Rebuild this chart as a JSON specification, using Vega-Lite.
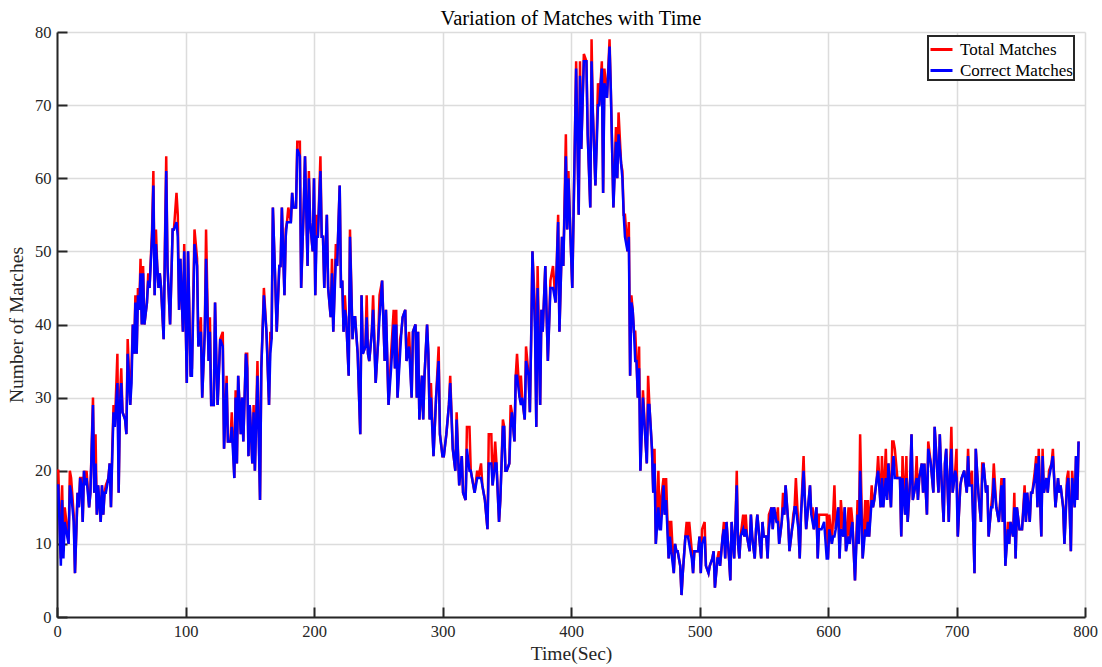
{"$schema":"https://vega.github.io/schema/vega-lite/v6.json","width":1028,"height":585,"autosize":{"type":"none"},"padding":{"left":57,"top":32,"right":17,"bottom":50},"background":"white",
"title":{"text":"Variation of Matches with Time","font":"Liberation Serif","fontSize":20.5,"fontWeight":"normal","color":"#000000","offset":-5,"anchor":"middle"},
"config":{"view":{"stroke":null},"font":"Liberation Serif",
"axis":{"labelFont":"Liberation Serif","labelFontSize":16.5,"labelColor":"#262626","titleFont":"Liberation Serif","titleFontSize":19.5,"titleFontWeight":"normal","titleColor":"#262626","domainColor":"#262626","domainWidth":2,"tickColor":"#262626","tickWidth":2,"tickSize":-10,"gridColor":"#dcdcdc","gridWidth":1.5,"gridOpacity":1},
"legend":{"orient":"none","legendX":871,"legendY":4,"strokeColor":"#262626","strokeWidth":2,"fillColor":"white","padding":1,"labelFont":"Liberation Serif","labelFontSize":17,"labelColor":"#000000","symbolType":"stroke","symbolStrokeWidth":3,"symbolSize":484,"rowPadding":-7,"labelOffset":6}},
"data":{"values":[
{"t":0,"total":20,"correct":18},{"t":1,"total":20,"correct":18},{"t":3,"total":8,"correct":7},{"t":4,"total":18,"correct":16},{"t":5,"total":9,"correct":8},{"t":6,"total":15,"correct":13},{"t":8,"total":12,"correct":11},{"t":9,"total":10,"correct":10},{"t":10,"total":20,"correct":18},{"t":11,"total":19,"correct":17},{"t":13,"total":14,"correct":13},{"t":14,"total":6,"correct":6},{"t":16,"total":17,"correct":17},{"t":17,"total":15,"correct":15},{"t":18,"total":19,"correct":19},{"t":19,"total":19,"correct":18},{"t":20,"total":13,"correct":13},{"t":21,"total":20,"correct":20},{"t":22,"total":19,"correct":18},{"t":23,"total":20,"correct":19},{"t":25,"total":15,"correct":15},{"t":26,"total":17,"correct":17},{"t":28,"total":30,"correct":29},{"t":29,"total":17,"correct":17},{"t":30,"total":25,"correct":21},{"t":31,"total":14,"correct":14},{"t":32,"total":18,"correct":18},{"t":34,"total":13,"correct":13},{"t":35,"total":18,"correct":18},{"t":36,"total":14,"correct":14},{"t":37,"total":17,"correct":17},{"t":38,"total":18,"correct":17},{"t":40,"total":19,"correct":19},{"t":41,"total":21,"correct":21},{"t":42,"total":15,"correct":15},{"t":43,"total":23,"correct":22},{"t":44,"total":29,"correct":28},{"t":45,"total":26,"correct":26},{"t":47,"total":36,"correct":32},{"t":48,"total":17,"correct":17},{"t":49,"total":30,"correct":29},{"t":50,"total":34,"correct":32},{"t":51,"total":28,"correct":28},{"t":53,"total":27,"correct":27},{"t":54,"total":25,"correct":25},{"t":55,"total":38,"correct":36},{"t":57,"total":29,"correct":29},{"t":58,"total":34,"correct":32},{"t":59,"total":40,"correct":40},{"t":60,"total":36,"correct":36},{"t":61,"total":44,"correct":43},{"t":62,"total":36,"correct":36},{"t":63,"total":45,"correct":44},{"t":64,"total":42,"correct":42},{"t":65,"total":49,"correct":47},{"t":66,"total":40,"correct":40},{"t":67,"total":48,"correct":47},{"t":68,"total":40,"correct":40},{"t":70,"total":43,"correct":43},{"t":71,"total":47,"correct":46},{"t":72,"total":45,"correct":45},{"t":74,"total":53,"correct":52},{"t":75,"total":61,"correct":59},{"t":76,"total":44,"correct":44},{"t":77,"total":53,"correct":51},{"t":78,"total":48,"correct":48},{"t":79,"total":45,"correct":45},{"t":80,"total":47,"correct":47},{"t":81,"total":45,"correct":45},{"t":83,"total":38,"correct":38},{"t":84,"total":51,"correct":50},{"t":85,"total":63,"correct":61},{"t":86,"total":48,"correct":48},{"t":88,"total":40,"correct":40},{"t":90,"total":53,"correct":53},{"t":91,"total":53,"correct":53},{"t":93,"total":58,"correct":54},{"t":94,"total":55,"correct":52},{"t":95,"total":42,"correct":42},{"t":96,"total":49,"correct":49},{"t":98,"total":39,"correct":39},{"t":99,"total":51,"correct":50},{"t":100,"total":42,"correct":42},{"t":101,"total":32,"correct":32},{"t":102,"total":50,"correct":50},{"t":104,"total":33,"correct":33},{"t":105,"total":34,"correct":33},{"t":107,"total":53,"correct":51},{"t":109,"total":49,"correct":48},{"t":110,"total":37,"correct":37},{"t":112,"total":41,"correct":39},{"t":113,"total":30,"correct":30},{"t":115,"total":39,"correct":39},{"t":116,"total":53,"correct":49},{"t":118,"total":35,"correct":35},{"t":119,"total":41,"correct":39},{"t":120,"total":29,"correct":29},{"t":122,"total":29,"correct":29},{"t":123,"total":43,"correct":43},{"t":124,"total":35,"correct":35},{"t":125,"total":29,"correct":29},{"t":127,"total":38,"correct":38},{"t":129,"total":39,"correct":37},{"t":130,"total":23,"correct":23},{"t":132,"total":33,"correct":32},{"t":133,"total":24,"correct":24},{"t":135,"total":24,"correct":24},{"t":136,"total":28,"correct":26},{"t":138,"total":19,"correct":19},{"t":139,"total":31,"correct":30},{"t":140,"total":21,"correct":21},{"t":141,"total":33,"correct":33},{"t":143,"total":25,"correct":25},{"t":144,"total":30,"correct":30},{"t":145,"total":24,"correct":24},{"t":147,"total":36,"correct":36},{"t":148,"total":36,"correct":34},{"t":149,"total":22,"correct":22},{"t":150,"total":29,"correct":29},{"t":152,"total":21,"correct":21},{"t":153,"total":29,"correct":28},{"t":154,"total":20,"correct":20},{"t":156,"total":35,"correct":33},{"t":158,"total":16,"correct":16},{"t":159,"total":34,"correct":34},{"t":161,"total":45,"correct":44},{"t":163,"total":39,"correct":39},{"t":165,"total":29,"correct":29},{"t":166,"total":39,"correct":36},{"t":167,"total":38,"correct":38},{"t":168,"total":56,"correct":56},{"t":170,"total":45,"correct":45},{"t":171,"total":39,"correct":39},{"t":173,"total":48,"correct":48},{"t":174,"total":48,"correct":48},{"t":175,"total":56,"correct":56},{"t":177,"total":44,"correct":44},{"t":178,"total":53,"correct":52},{"t":179,"total":54,"correct":54},{"t":180,"total":56,"correct":54},{"t":182,"total":54,"correct":54},{"t":183,"total":58,"correct":58},{"t":184,"total":56,"correct":56},{"t":186,"total":56,"correct":56},{"t":187,"total":65,"correct":64},{"t":189,"total":65,"correct":63},{"t":190,"total":45,"correct":45},{"t":192,"total":56,"correct":56},{"t":193,"total":63,"correct":63},{"t":195,"total":48,"correct":48},{"t":196,"total":61,"correct":60},{"t":197,"total":54,"correct":54},{"t":199,"total":50,"correct":50},{"t":200,"total":60,"correct":60},{"t":201,"total":44,"correct":44},{"t":202,"total":55,"correct":52},{"t":203,"total":52,"correct":52},{"t":205,"total":63,"correct":61},{"t":206,"total":52,"correct":52},{"t":207,"total":52,"correct":52},{"t":208,"total":45,"correct":45},{"t":210,"total":55,"correct":55},{"t":211,"total":45,"correct":45},{"t":213,"total":41,"correct":41},{"t":214,"total":49,"correct":47},{"t":215,"total":39,"correct":39},{"t":217,"total":51,"correct":49},{"t":218,"total":48,"correct":48},{"t":220,"total":59,"correct":59},{"t":221,"total":45,"correct":45},{"t":222,"total":46,"correct":46},{"t":223,"total":39,"correct":39},{"t":224,"total":44,"correct":42},{"t":225,"total":41,"correct":41},{"t":227,"total":33,"correct":33},{"t":228,"total":53,"correct":52},{"t":230,"total":38,"correct":38},{"t":231,"total":41,"correct":41},{"t":232,"total":41,"correct":41},{"t":234,"total":36,"correct":36},{"t":236,"total":25,"correct":25},{"t":237,"total":44,"correct":44},{"t":238,"total":36,"correct":36},{"t":240,"total":37,"correct":37},{"t":241,"total":44,"correct":41},{"t":242,"total":36,"correct":36},{"t":243,"total":35,"correct":35},{"t":245,"total":39,"correct":39},{"t":246,"total":44,"correct":42},{"t":248,"total":32,"correct":32},{"t":250,"total":38,"correct":38},{"t":251,"total":44,"correct":41},{"t":253,"total":46,"correct":46},{"t":255,"total":35,"correct":35},{"t":256,"total":42,"correct":42},{"t":258,"total":29,"correct":29},{"t":260,"total":36,"correct":34},{"t":262,"total":42,"correct":40},{"t":263,"total":34,"correct":34},{"t":264,"total":42,"correct":40},{"t":265,"total":30,"correct":30},{"t":267,"total":38,"correct":36},{"t":268,"total":39,"correct":39},{"t":269,"total":41,"correct":41},{"t":271,"total":42,"correct":42},{"t":272,"total":35,"correct":35},{"t":274,"total":39,"correct":37},{"t":276,"total":30,"correct":30},{"t":277,"total":39,"correct":39},{"t":279,"total":40,"correct":40},{"t":280,"total":30,"correct":30},{"t":281,"total":39,"correct":39},{"t":282,"total":27,"correct":27},{"t":284,"total":33,"correct":33},{"t":285,"total":27,"correct":27},{"t":286,"total":33,"correct":33},{"t":288,"total":40,"correct":40},{"t":289,"total":36,"correct":36},{"t":290,"total":27,"correct":27},{"t":291,"total":32,"correct":30},{"t":293,"total":22,"correct":22},{"t":295,"total":30,"correct":30},{"t":297,"total":37,"correct":35},{"t":298,"total":25,"correct":25},{"t":300,"total":22,"correct":22},{"t":301,"total":22,"correct":22},{"t":303,"total":25,"correct":25},{"t":305,"total":29,"correct":29},{"t":306,"total":33,"correct":32},{"t":308,"total":23,"correct":23},{"t":310,"total":20,"correct":20},{"t":311,"total":28,"correct":27},{"t":313,"total":18,"correct":18},{"t":315,"total":22,"correct":22},{"t":316,"total":17,"correct":17},{"t":318,"total":16,"correct":16},{"t":319,"total":26,"correct":23},{"t":321,"total":26,"correct":20},{"t":322,"total":20,"correct":20},{"t":324,"total":18,"correct":18},{"t":325,"total":17,"correct":17},{"t":327,"total":20,"correct":19},{"t":328,"total":19,"correct":19},{"t":330,"total":21,"correct":19},{"t":331,"total":18,"correct":18},{"t":332,"total":17,"correct":17},{"t":333,"total":16,"correct":16},{"t":335,"total":12,"correct":12},{"t":336,"total":25,"correct":21},{"t":338,"total":25,"correct":21},{"t":339,"total":18,"correct":18},{"t":341,"total":24,"correct":21},{"t":342,"total":21,"correct":21},{"t":344,"total":13,"correct":13},{"t":345,"total":16,"correct":16},{"t":347,"total":27,"correct":26},{"t":348,"total":26,"correct":26},{"t":349,"total":20,"correct":20},{"t":350,"total":20,"correct":20},{"t":352,"total":21,"correct":21},{"t":353,"total":29,"correct":26},{"t":354,"total":28,"correct":28},{"t":356,"total":24,"correct":24},{"t":357,"total":33,"correct":33},{"t":358,"total":36,"correct":33},{"t":360,"total":30,"correct":30},{"t":361,"total":33,"correct":29},{"t":362,"total":30,"correct":30},{"t":364,"total":27,"correct":27},{"t":365,"total":37,"correct":35},{"t":367,"total":33,"correct":33},{"t":368,"total":28,"correct":28},{"t":369,"total":38,"correct":38},{"t":370,"total":50,"correct":50},{"t":372,"total":42,"correct":39},{"t":373,"total":26,"correct":26},{"t":374,"total":48,"correct":45},{"t":376,"total":29,"correct":29},{"t":377,"total":42,"correct":42},{"t":378,"total":39,"correct":39},{"t":380,"total":48,"correct":48},{"t":382,"total":35,"correct":35},{"t":384,"total":46,"correct":45},{"t":386,"total":48,"correct":45},{"t":388,"total":43,"correct":43},{"t":390,"total":55,"correct":54},{"t":391,"total":39,"correct":39},{"t":393,"total":52,"correct":52},{"t":394,"total":48,"correct":48},{"t":396,"total":66,"correct":63},{"t":397,"total":53,"correct":53},{"t":398,"total":61,"correct":60},{"t":399,"total":55,"correct":55},{"t":401,"total":45,"correct":45},{"t":402,"total":55,"correct":55},{"t":404,"total":76,"correct":75},{"t":406,"total":55,"correct":55},{"t":407,"total":76,"correct":74},{"t":408,"total":64,"correct":64},{"t":410,"total":77,"correct":76},{"t":412,"total":76,"correct":76},{"t":413,"total":66,"correct":66},{"t":415,"total":56,"correct":56},{"t":416,"total":79,"correct":76},{"t":417,"total":69,"correct":69},{"t":419,"total":59,"correct":59},{"t":421,"total":73,"correct":70},{"t":422,"total":70,"correct":70},{"t":424,"total":76,"correct":75},{"t":425,"total":58,"correct":58},{"t":426,"total":75,"correct":73},{"t":428,"total":71,"correct":71},{"t":430,"total":79,"correct":78},{"t":431,"total":72,"correct":72},{"t":432,"total":64,"correct":64},{"t":433,"total":56,"correct":56},{"t":435,"total":67,"correct":65},{"t":436,"total":60,"correct":60},{"t":437,"total":69,"correct":66},{"t":439,"total":62,"correct":62},{"t":440,"total":61,"correct":60},{"t":441,"total":55,"correct":55},{"t":442,"total":55,"correct":52},{"t":444,"total":50,"correct":50},{"t":445,"total":54,"correct":52},{"t":446,"total":33,"correct":33},{"t":447,"total":44,"correct":43},{"t":448,"total":42,"correct":42},{"t":449,"total":39,"correct":39},{"t":450,"total":39,"correct":35},{"t":451,"total":35,"correct":35},{"t":452,"total":30,"correct":30},{"t":453,"total":37,"correct":34},{"t":454,"total":20,"correct":20},{"t":456,"total":31,"correct":30},{"t":458,"total":24,"correct":24},{"t":459,"total":21,"correct":21},{"t":460,"total":33,"correct":29},{"t":461,"total":29,"correct":29},{"t":463,"total":23,"correct":23},{"t":464,"total":17,"correct":17},{"t":465,"total":23,"correct":21},{"t":466,"total":10,"correct":10},{"t":468,"total":20,"correct":15},{"t":469,"total":12,"correct":12},{"t":470,"total":16,"correct":12},{"t":472,"total":19,"correct":18},{"t":473,"total":14,"correct":14},{"t":474,"total":19,"correct":16},{"t":476,"total":8,"correct":8},{"t":477,"total":13,"correct":11},{"t":478,"total":13,"correct":9},{"t":480,"total":6,"correct":6},{"t":481,"total":10,"correct":10},{"t":482,"total":9,"correct":9},{"t":483,"total":9,"correct":9},{"t":485,"total":7,"correct":7},{"t":486,"total":3,"correct":3},{"t":487,"total":6,"correct":6},{"t":489,"total":11,"correct":11},{"t":490,"total":13,"correct":11},{"t":491,"total":11,"correct":11},{"t":492,"total":13,"correct":10},{"t":494,"total":9,"correct":8},{"t":495,"total":6,"correct":6},{"t":496,"total":9,"correct":9},{"t":498,"total":9,"correct":9},{"t":499,"total":9,"correct":9},{"t":500,"total":11,"correct":11},{"t":501,"total":6,"correct":6},{"t":502,"total":12,"correct":10},{"t":504,"total":13,"correct":11},{"t":505,"total":7,"correct":7},{"t":507,"total":6,"correct":6},{"t":508,"total":7,"correct":7},{"t":510,"total":8,"correct":8},{"t":511,"total":9,"correct":9},{"t":512,"total":4,"correct":4},{"t":514,"total":8,"correct":8},{"t":515,"total":9,"correct":8},{"t":516,"total":7,"correct":7},{"t":518,"total":11,"correct":11},{"t":519,"total":13,"correct":12},{"t":520,"total":8,"correct":8},{"t":521,"total":13,"correct":13},{"t":523,"total":8,"correct":8},{"t":524,"total":5,"correct":5},{"t":525,"total":13,"correct":13},{"t":527,"total":8,"correct":8},{"t":528,"total":13,"correct":13},{"t":529,"total":20,"correct":18},{"t":530,"total":10,"correct":10},{"t":531,"total":8,"correct":8},{"t":532,"total":11,"correct":11},{"t":534,"total":14,"correct":12},{"t":535,"total":11,"correct":11},{"t":536,"total":14,"correct":12},{"t":537,"total":11,"correct":11},{"t":539,"total":9,"correct":9},{"t":540,"total":14,"correct":14},{"t":541,"total":11,"correct":11},{"t":543,"total":8,"correct":8},{"t":544,"total":12,"correct":12},{"t":545,"total":14,"correct":14},{"t":547,"total":10,"correct":10},{"t":548,"total":8,"correct":8},{"t":549,"total":13,"correct":13},{"t":550,"total":11,"correct":11},{"t":552,"total":11,"correct":11},{"t":553,"total":8,"correct":8},{"t":554,"total":14,"correct":12},{"t":556,"total":15,"correct":15},{"t":557,"total":12,"correct":12},{"t":558,"total":15,"correct":15},{"t":560,"total":13,"correct":13},{"t":561,"total":15,"correct":13},{"t":562,"total":10,"correct":10},{"t":564,"total":13,"correct":13},{"t":565,"total":17,"correct":15},{"t":566,"total":14,"correct":14},{"t":567,"total":18,"correct":18},{"t":569,"total":13,"correct":13},{"t":570,"total":9,"correct":9},{"t":572,"total":12,"correct":12},{"t":573,"total":14,"correct":13},{"t":574,"total":15,"correct":15},{"t":575,"total":19,"correct":15},{"t":577,"total":12,"correct":12},{"t":578,"total":8,"correct":8},{"t":579,"total":14,"correct":14},{"t":581,"total":22,"correct":20},{"t":582,"total":16,"correct":16},{"t":583,"total":12,"correct":12},{"t":584,"total":14,"correct":14},{"t":586,"total":18,"correct":18},{"t":587,"total":14,"correct":14},{"t":588,"total":15,"correct":13},{"t":589,"total":12,"correct":12},{"t":591,"total":15,"correct":15},{"t":592,"total":8,"correct":8},{"t":593,"total":14,"correct":12},{"t":595,"total":14,"correct":12},{"t":597,"total":14,"correct":13},{"t":599,"total":14,"correct":8},{"t":600,"total":8,"correct":8},{"t":601,"total":14,"correct":12},{"t":603,"total":10,"correct":10},{"t":604,"total":14,"correct":11},{"t":605,"total":18,"correct":11},{"t":606,"total":12,"correct":12},{"t":608,"total":15,"correct":15},{"t":609,"total":8,"correct":8},{"t":610,"total":16,"correct":12},{"t":612,"total":11,"correct":11},{"t":613,"total":15,"correct":15},{"t":614,"total":9,"correct":9},{"t":616,"total":15,"correct":11},{"t":617,"total":10,"correct":10},{"t":618,"total":15,"correct":12},{"t":619,"total":13,"correct":13},{"t":621,"total":5,"correct":5},{"t":623,"total":16,"correct":14},{"t":624,"total":10,"correct":10},{"t":625,"total":25,"correct":20},{"t":627,"total":8,"correct":8},{"t":629,"total":16,"correct":12},{"t":630,"total":11,"correct":11},{"t":631,"total":16,"correct":13},{"t":632,"total":11,"correct":11},{"t":634,"total":18,"correct":16},{"t":635,"total":15,"correct":15},{"t":636,"total":16,"correct":16},{"t":638,"total":19,"correct":19},{"t":639,"total":22,"correct":20},{"t":641,"total":15,"correct":15},{"t":642,"total":22,"correct":19},{"t":643,"total":15,"correct":15},{"t":645,"total":23,"correct":19},{"t":646,"total":16,"correct":16},{"t":647,"total":21,"correct":21},{"t":649,"total":15,"correct":15},{"t":650,"total":24,"correct":20},{"t":651,"total":24,"correct":22},{"t":652,"total":23,"correct":19},{"t":654,"total":19,"correct":19},{"t":656,"total":19,"correct":19},{"t":657,"total":11,"correct":11},{"t":658,"total":22,"correct":19},{"t":660,"total":14,"correct":14},{"t":661,"total":22,"correct":19},{"t":662,"total":13,"correct":13},{"t":664,"total":19,"correct":19},{"t":665,"total":25,"correct":25},{"t":666,"total":16,"correct":16},{"t":668,"total":18,"correct":18},{"t":669,"total":22,"correct":19},{"t":670,"total":16,"correct":16},{"t":671,"total":19,"correct":19},{"t":673,"total":21,"correct":21},{"t":674,"total":17,"correct":17},{"t":675,"total":21,"correct":21},{"t":677,"total":14,"correct":14},{"t":678,"total":24,"correct":23},{"t":680,"total":21,"correct":21},{"t":682,"total":17,"correct":17},{"t":683,"total":26,"correct":26},{"t":685,"total":20,"correct":20},{"t":686,"total":17,"correct":17},{"t":687,"total":25,"correct":25},{"t":688,"total":20,"correct":20},{"t":690,"total":13,"correct":13},{"t":691,"total":21,"correct":21},{"t":692,"total":23,"correct":23},{"t":694,"total":13,"correct":13},{"t":695,"total":20,"correct":20},{"t":696,"total":26,"correct":23},{"t":697,"total":17,"correct":17},{"t":699,"total":20,"correct":20},{"t":700,"total":23,"correct":19},{"t":701,"total":11,"correct":11},{"t":703,"total":18,"correct":18},{"t":704,"total":19,"correct":19},{"t":706,"total":20,"correct":20},{"t":708,"total":17,"correct":17},{"t":709,"total":23,"correct":22},{"t":710,"total":18,"correct":18},{"t":712,"total":20,"correct":18},{"t":713,"total":13,"correct":13},{"t":714,"total":6,"correct":6},{"t":715,"total":23,"correct":23},{"t":716,"total":20,"correct":20},{"t":717,"total":17,"correct":17},{"t":719,"total":13,"correct":13},{"t":720,"total":21,"correct":19},{"t":721,"total":21,"correct":21},{"t":723,"total":17,"correct":17},{"t":724,"total":18,"correct":18},{"t":725,"total":11,"correct":11},{"t":727,"total":15,"correct":15},{"t":728,"total":17,"correct":15},{"t":729,"total":21,"correct":19},{"t":731,"total":15,"correct":15},{"t":732,"total":14,"correct":14},{"t":733,"total":13,"correct":13},{"t":735,"total":19,"correct":18},{"t":736,"total":13,"correct":13},{"t":737,"total":19,"correct":19},{"t":738,"total":7,"correct":7},{"t":740,"total":13,"correct":12},{"t":741,"total":10,"correct":10},{"t":742,"total":13,"correct":13},{"t":744,"total":11,"correct":11},{"t":745,"total":17,"correct":15},{"t":746,"total":8,"correct":8},{"t":747,"total":15,"correct":15},{"t":749,"total":12,"correct":12},{"t":750,"total":12,"correct":12},{"t":751,"total":12,"correct":12},{"t":753,"total":18,"correct":17},{"t":754,"total":13,"correct":13},{"t":755,"total":17,"correct":17},{"t":757,"total":13,"correct":13},{"t":758,"total":17,"correct":17},{"t":759,"total":17,"correct":17},{"t":761,"total":20,"correct":19},{"t":762,"total":22,"correct":21},{"t":763,"total":15,"correct":15},{"t":764,"total":23,"correct":22},{"t":766,"total":11,"correct":11},{"t":767,"total":23,"correct":22},{"t":768,"total":17,"correct":17},{"t":770,"total":19,"correct":19},{"t":771,"total":17,"correct":17},{"t":772,"total":20,"correct":19},{"t":774,"total":21,"correct":21},{"t":775,"total":23,"correct":22},{"t":776,"total":19,"correct":19},{"t":777,"total":15,"correct":15},{"t":779,"total":19,"correct":19},{"t":780,"total":17,"correct":17},{"t":781,"total":18,"correct":18},{"t":783,"total":15,"correct":15},{"t":784,"total":10,"correct":10},{"t":786,"total":19,"correct":18},{"t":787,"total":20,"correct":19},{"t":788,"total":15,"correct":15},{"t":789,"total":9,"correct":9},{"t":790,"total":20,"correct":19},{"t":792,"total":15,"correct":15},{"t":793,"total":22,"correct":22},{"t":794,"total":16,"correct":16},{"t":795,"total":24,"correct":24}
]},
"encoding":{"x":{"field":"t","type":"quantitative","scale":{"domain":[0,800],"nice":false,"zero":false},"axis":{"title":"Time(Sec)","values":[0,100,200,300,400,500,600,700,800],"labelFlush":false,"labelPadding":16,"titlePadding":5}}},
"layer":[
{"mark":{"type":"line","strokeWidth":2.5},"encoding":{"y":{"field":"total","type":"quantitative","scale":{"domain":[0,80],"nice":false},"axis":{"title":"Number of Matches","values":[0,10,20,30,40,50,60,70,80],"labelPadding":16,"titlePadding":8}},"color":{"datum":"Total Matches","type":"nominal","scale":{"domain":["Total Matches","Correct Matches"],"range":["#ff0000","#0000ff"]},"legend":{"title":null}}}},
{"mark":{"type":"line","strokeWidth":2.5},"encoding":{"y":{"field":"correct","type":"quantitative"},"color":{"datum":"Correct Matches","type":"nominal"}}}
]}
